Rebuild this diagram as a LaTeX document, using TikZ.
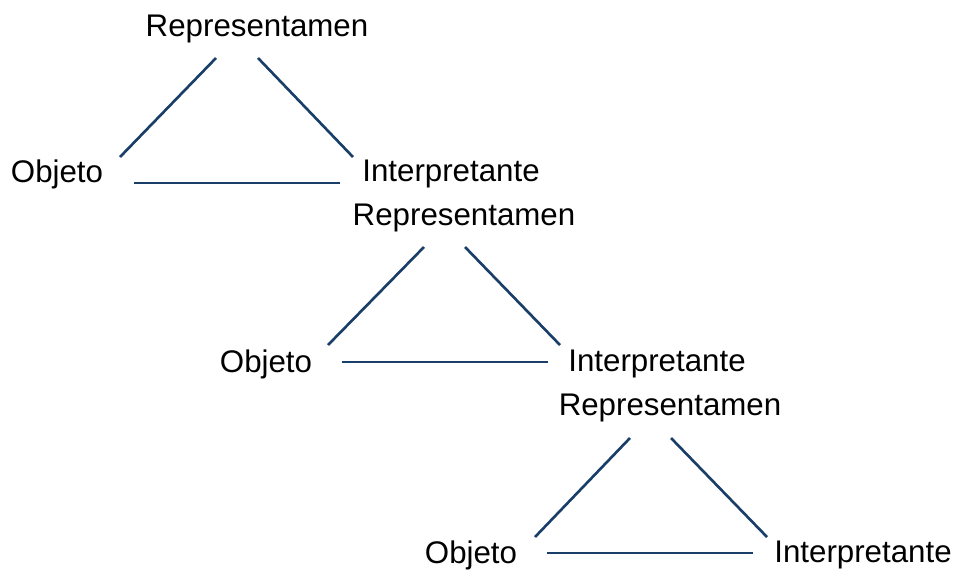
\documentclass[tikz,border=0pt]{standalone}
\usepackage{fontspec}
\setmainfont{Liberation Sans}
\definecolor{linea}{RGB}{25,62,104}
\tikzset{
  etichetta/.style={inner sep=0pt,font=\fontsize{17.8}{21}\selectfont},
  lato/.style={draw=linea,line width=1.5pt}
}
\begin{document}
\begin{tikzpicture}[x=0.02cm,y=-0.02cm]
    % Coordinate in pixel, asse y verso il basso.
    \useasboundingbox (0,0) rectangle (959,572);
    % primo triangolo
    \node[etichetta] (r1) at (257,29) {Representamen};
    \node[etichetta] (o1) at (57,174) {Objeto};
    \node[etichetta] (i1) at (451,174) {Interpretante};
    \draw[lato] ([shift={(63,-17)}]o1.center) -- ([shift={(-41,29)}]r1.center); %lato sinistro
    \draw[lato] ([shift={(1,29)}]r1.center) -- ([shift={(-98,-17)}]i1.center); %lato destro
    \draw[lato] ([shift={(77,9)}]o1.center) -- ([shift={(-111,9)}]i1.center); %base
    % secondo triangolo
    \node[etichetta] (r2) at (464,218) {Representamen};
    \node[etichetta] (o2) at (266,364) {Objeto};
    \node[etichetta] (i2) at (657,364) {Interpretante};
    \draw[lato] ([shift={(62,-19)}]o2.center) -- ([shift={(-40,29)}]r2.center); %lato sinistro
    \draw[lato] ([shift={(1,29)}]r2.center) -- ([shift={(-97,-19)}]i2.center); %lato destro
    \draw[lato] ([shift={(76,-2)}]o2.center) -- ([shift={(-109,-2)}]i2.center); %base
    % terzo triangolo
    \node[etichetta] (r3) at (670,408) {Representamen};
    \node[etichetta] (o3) at (471,555) {Objeto};
    \node[etichetta] (i3) at (863,555) {Interpretante};
    \draw[lato] ([shift={(64,-18)}]o3.center) -- ([shift={(-40,30)}]r3.center); %lato sinistro
    \draw[lato] ([shift={(1,30)}]r3.center) -- ([shift={(-96,-18)}]i3.center); %lato destro
    \draw[lato] ([shift={(76,-2)}]o3.center) -- ([shift={(-110,-2)}]i3.center); %base
  \end{tikzpicture}
\end{document}
